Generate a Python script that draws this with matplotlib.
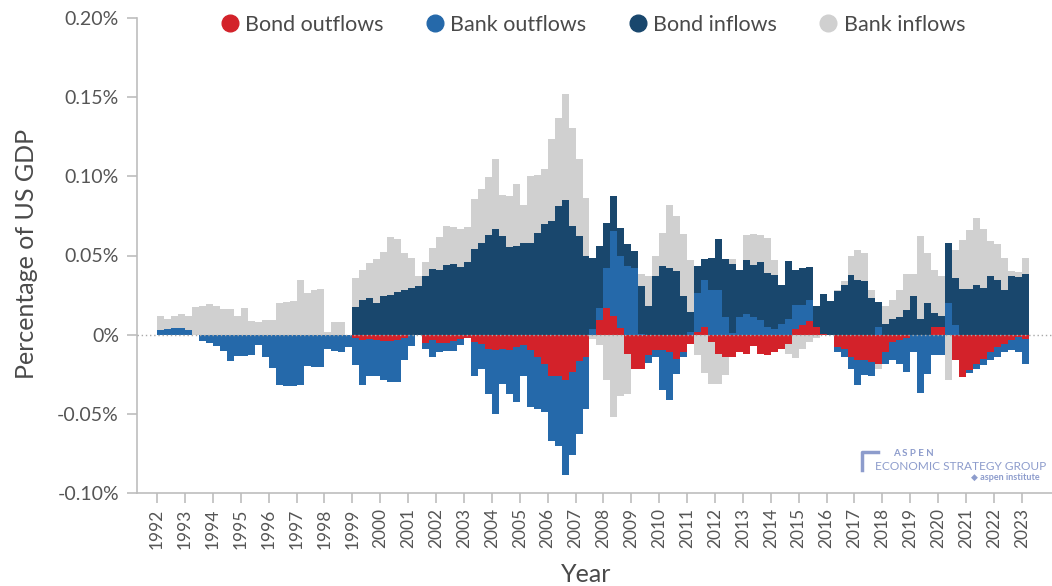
import numpy as np
import pandas as pd
import matplotlib
matplotlib.use("Agg")
import matplotlib.pyplot as plt
from matplotlib.lines import Line2D

# ----------------------------
# Data (quarterly, % of US GDP)
# ----------------------------
quarters = pd.period_range("1992Q1", "2023Q1", freq="Q")

bond_outflows = [
    0, 0, 0, 0, 0, 0, 0, 0, 0, 0, 0, 0, 0, 0, 0, 0,
    0, 0, 0, 0, 0, 0, 0, 0, 0, 0, 0, 0,
    -0.0019, -0.0032, -0.0025, -0.0032,
    -0.0038, -0.0038, -0.0032, -0.0019,
    0, 0, -0.0051, -0.0032,
    -0.0051, -0.0051, -0.0038, -0.0025,
    -0.0019, -0.0045, -0.0057, -0.0089,
    -0.0095, -0.0089, -0.0095, -0.0076,
    -0.0067, -0.0095, -0.0140, -0.0184,
    -0.0258, -0.0264, -0.0289, -0.0235,
    -0.0165, -0.0140, 0, 0.0092,
    0.0167, 0.0119, 0.0040, -0.0121,
    -0.0216, -0.0216, -0.0127, -0.0095,
    -0.0095, -0.0108, -0.0151, -0.0108,
    -0.0057, 0.0019, 0.0051, -0.0045,
    -0.0121, -0.0140, -0.0140, -0.0108,
    -0.0120, -0.0073, -0.0121, -0.0127,
    -0.0108, -0.0089, -0.0057, 0.0038,
    0.0060, 0.0086, 0.0051, 0.0006,
    0, -0.0076, -0.0089, -0.0140,
    -0.0162, -0.0162, -0.0172, -0.0184,
    -0.0108, -0.0045, -0.0032, -0.0019,
    0, 0, 0, 0.0051,
    0.0051, 0, -0.0162, -0.0267,
    -0.0226, -0.0184, -0.0153, -0.0108,
    -0.0076, -0.0057, -0.0035, -0.0013,
    -0.0025,
]

bank_outflows = [
    0.0027, 0.0038, 0.0045, 0.0045,
    0.0030, 0, -0.0040, -0.0055,
    -0.0072, -0.0100, -0.0165, -0.0135,
    -0.0134, -0.0129, -0.0068, -0.0140,
    -0.0210, -0.0316, -0.0322, -0.0326,
    -0.0321, -0.0197, -0.0204, -0.0204,
    -0.0089, -0.0102, -0.0108, -0.0076,
    -0.0175, -0.0283, -0.0239, -0.0226,
    -0.0248, -0.0258, -0.0264, -0.0143,
    -0.0073, 0, -0.0038, -0.0108,
    -0.0057, -0.0051, -0.0064, -0.0041,
    0, -0.0213, -0.0159, -0.0286,
    -0.0407, -0.0223, -0.0280, -0.0350,
    -0.0197, -0.0363, -0.0328, -0.0305,
    -0.0413, -0.0439, -0.0595, -0.0525,
    -0.0464, -0.0331, 0.0038, 0.0074,
    0.0254, 0.0534, 0.0456, 0.0432,
    0.0422, 0.0006, -0.0055, -0.0045,
    -0.0256, -0.0307, -0.0095, -0.0032,
    0.0019, 0.0242, 0.0297, 0.0284,
    0.0284, 0.0114, 0.0013, 0.0114,
    0.0130, 0.0114, 0.0092, 0.0051,
    0.0038, 0.0070, 0.0102, 0.0149,
    0.0127, 0.0134, 0, 0,
    0, -0.0032, -0.0051, -0.0076,
    -0.0159, -0.0095, -0.0086, 0.0051,
    -0.0076, -0.0118, -0.0153, -0.0216,
    -0.0108, -0.0369, -0.0248, -0.0130,
    -0.0130, 0.0197, 0.0060, 0,
    -0.0019, -0.0032, -0.0041, -0.0054,
    -0.0064, -0.0051, -0.0064, -0.0095,
    -0.0159,
]

bond_inflows = [
    0, 0, 0, 0, 0, 0, 0, 0, 0, 0, 0, 0, 0, 0, 0, 0,
    0, 0, 0, 0, 0, 0, 0, 0, 0, 0, 0, 0,
    0.0172, 0.0216, 0.0229, 0.0197,
    0.0242, 0.0251, 0.0267, 0.0283,
    0.0293, 0.0305, 0.0372, 0.0413,
    0.0410, 0.0442, 0.0448, 0.0426,
    0.0458, 0.0541, 0.0576, 0.0630,
    0.0668, 0.0623, 0.0553, 0.0563,
    0.0576, 0.0579, 0.0639, 0.0696,
    0.0719, 0.0814, 0.0849, 0.0687,
    0.0623, 0.0496, 0.0445, 0.0392,
    0.0286, 0.0223, 0.0180, 0.0138,
    0.0106, 0.0299, 0.0178, 0.0369,
    0.0432, 0.0420, 0.0401, 0.0242,
    0.0127, 0.0172, 0.0127, 0.0201,
    0.0318, 0.0361, 0.0432, 0.0296,
    0.0343, 0.0328, 0.0366, 0.0337,
    0.0340, 0.0245, 0.0363, 0.0223,
    0.0232, 0.0207, 0.0130, 0.0251,
    0.0210, 0.0273, 0.0315, 0.0378,
    0.0347, 0.0337, 0.0229, 0.0153,
    0.0070, 0.0102, 0.0114, 0.0156,
    0.0242, 0.0102, 0.0197, 0.0083,
    0.0064, 0.0382, 0.0296, 0.0286,
    0.0286, 0.0315, 0.0293, 0.0369,
    0.0347, 0.0283, 0.0372, 0.0363,
    0.0385,
]

bank_inflows = [
    0.0093, 0.0062, 0.0072, 0.0083,
    0.0086, 0.0176, 0.0184, 0.0195,
    0.0184, 0.0159, 0.0163, 0.0121,
    0.0167, 0.0089, 0.0078, 0.0091,
    0.0091, 0.0197, 0.0205, 0.0212,
    0.0343, 0.0261, 0.0283, 0.0289,
    0.0016, 0.0083, 0.0083, 0,
    0.0184, 0.0194, 0.0223, 0.0280,
    0.0280, 0.0366, 0.0340, 0.0232,
    0.0191, 0.0067, 0.0089, 0.0134,
    0.0207, 0.0245, 0.0232, 0.0242,
    0.0223, 0.0318, 0.0343, 0.0363,
    0.0439, 0.0258, 0.0324, 0.0391,
    0.0242, 0.0420, 0.0369, 0.0353,
    0.0518, 0.0553, 0.0668, 0.0617,
    0.0487, 0.0369, -0.0025, -0.0064,
    -0.0289, -0.0522, -0.0388, -0.0254,
    0, 0.0080, 0.0191, 0.0127,
    0.0213, 0.0398, 0.0350, 0.0391,
    0.0328, -0.0127, -0.0242, -0.0267,
    -0.0191, -0.0114, 0.0032, 0,
    0.0159, 0.0191, 0.0169, 0.0223,
    0.0095, 0, -0.0064, -0.0146,
    -0.0089, -0.0045, -0.0019, 0,
    0, 0.0010, 0.0022, 0.0118,
    0.0188, 0.0178, 0.0054, -0.0032,
    0.0108, 0.0118, 0.0169, 0.0229,
    0.0143, 0.0522, 0.0318, 0.0273,
    0.0258, -0.0289, 0.0181, 0.0315,
    0.0378, 0.0423, 0.0372, 0.0223,
    0.0223, 0.0200, 0.0029, 0.0032,
    0.0099,
]

series_names = ["Bond outflows", "Bank outflows", "Bond inflows", "Bank inflows"]
series_colors = ["#d3222a", "#2569aa", "#19476d", "#d0d0d0"]

year_ticks = list(range(1992, 2024))
ytick_values = [-0.10, -0.05, 0, 0.05, 0.10, 0.15, 0.20]
ytick_labels = ["-0.10%", "-0.05%", "0%", "0.05%", "0.10%", "0.15%", "0.20%"]

# ----------------------------
# Style
# ----------------------------
plt.rcParams["font.family"] = ["Lato", "DejaVu Sans"]
text_color = "#555555"
axis_color = "#bdbdbd"

fig = plt.figure(figsize=(10.52, 5.86), dpi=100)
ax = fig.add_axes([137 / 1052, 1 - 493 / 586, 1 - 137 / 1052, (493 - 18) / 586])

# ----------------------------
# Diverging stacked bars
# ----------------------------
x = np.array([q.year + (q.quarter - 1) / 4 for q in quarters])
pos_base = np.zeros(len(x))
neg_base = np.zeros(len(x))

for values, color in zip(
    [bond_outflows, bank_outflows, bond_inflows, bank_inflows], series_colors
):
    v = np.array(values, dtype=float)
    bottom = np.where(v >= 0, pos_base, neg_base)
    ax.bar(x, v, width=0.25, bottom=bottom, align="edge",
           color=color, linewidth=0, antialiased=False, zorder=2)
    pos_base = pos_base + np.clip(v, 0, None)
    neg_base = neg_base + np.clip(v, None, 0)

ax.axhline(0, color="#a8a8a8", linewidth=1.0, linestyle=(0, (1, 2)), zorder=3)

# ----------------------------
# Axes
# ----------------------------
ax.set_xlim(1991.28, 2024.08)
ax.set_ylim(-0.10, 0.20)

ax.set_xticks(year_ticks)
ax.set_xticklabels([str(y) for y in year_ticks], rotation=90,
                   fontsize=12.5, color=text_color)
ax.set_yticks(ytick_values)
ax.set_yticklabels(ytick_labels, fontsize=14, color=text_color)

for side in ["top", "right"]:
    ax.spines[side].set_visible(False)
for side in ["left", "bottom"]:
    ax.spines[side].set_color(axis_color)
    ax.spines[side].set_linewidth(1.2)

ax.tick_params(axis="both", color=axis_color, length=7, width=1.2)
ax.tick_params(axis="y", pad=6)
ax.tick_params(axis="x", pad=4)

fig.text(27 / 1052, 1 - 254 / 586, "Percentage of US GDP", rotation=90,
         ha="center", va="center", fontsize=18, color="#4a4a4a")
fig.text(586 / 1052, 1 - 575 / 586, "Year",
         ha="center", va="center", fontsize=18, color="#4a4a4a")

# ----------------------------
# Legend
# ----------------------------
handles = [
    Line2D([], [], marker="o", linestyle="none", markersize=12,
           markerfacecolor=c, markeredgecolor=c)
    for c in series_colors
]
fig.legend(handles, series_names, loc="center", ncol=4,
           bbox_to_anchor=(592 / 1052, 1 - 25 / 586), frameon=False,
           fontsize=15.5, labelcolor="#4a4a4a", handletextpad=0.2,
           columnspacing=1.9, handlelength=1.0)

# ----------------------------
# Watermark
# ----------------------------
logo_color = "#8d9ccc"
fig.text(893 / 1052, 1 - 454 / 586, "A S P E N", fontsize=7,
         color=logo_color, fontweight="bold", ha="left", va="center")
fig.text(1046 / 1052, 1 - 466 / 586, "ECONOMIC STRATEGY GROUP", fontsize=8.6,
         color=logo_color, ha="right", va="center")
fig.text(1040 / 1052, 1 - 478 / 586, "\u25c6 aspen institute", fontsize=6.5,
         color=logo_color, ha="right", va="center", fontweight="bold")
fig.add_artist(Line2D([862 / 1052, 862 / 1052, 878 / 1052],
                      [1 - 470 / 586, 1 - 452 / 586, 1 - 452 / 586],
                      color=logo_color, linewidth=2.5))

fig.savefig("out.png", dpi=100, facecolor="white")
plt.close(fig)
